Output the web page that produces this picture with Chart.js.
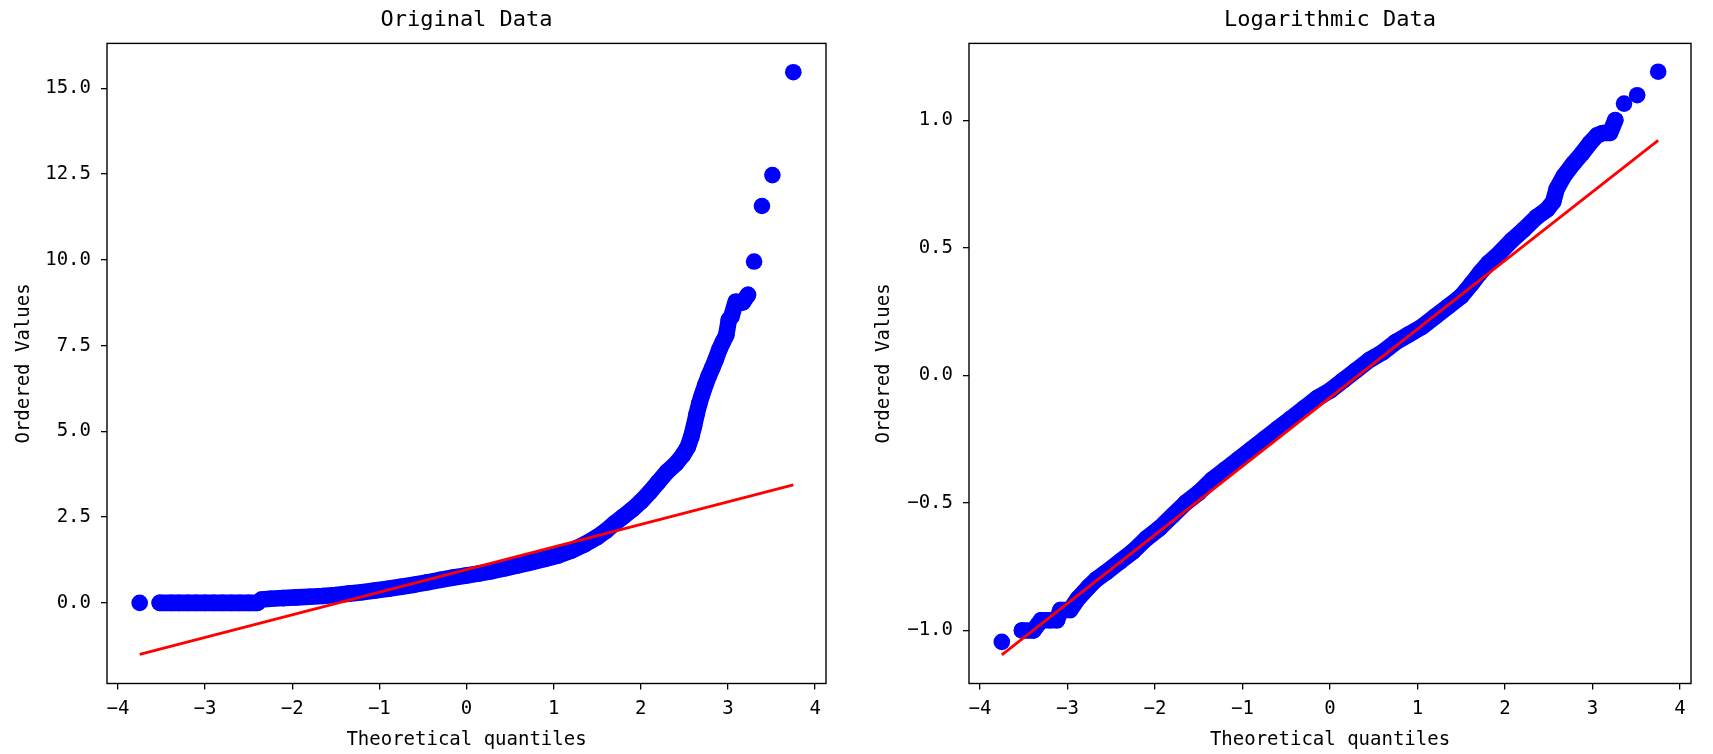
<!DOCTYPE html>
<html>
<head>
<meta charset="utf-8">
<title>Q-Q plots</title>
<script src="https://cdn.jsdelivr.net/npm/chart.js@4.4.1/dist/chart.umd.min.js"></script>
<style>
  html, body { margin: 0; padding: 0; background: #fff; }
  #wrap { position: relative; width: 1713px; height: 754px; }
  canvas { position: absolute; top: 0; }
</style>
</head>
<body>
<div id="wrap">
  <canvas id="chart-orig" width="860" height="754" style="left:0"></canvas>
  <canvas id="chart-log" width="853" height="754" style="left:860px"></canvas>
</div>
<script>
// ---- Original data (left panel) ----
const origBandX = [-3.52, -3.39, -3.30, -3.20, -3.10, -3.00, -2.90, -2.80, -2.70, -2.60, -2.50, -2.40,
  -2.35, -2.25, -2.10, -1.95, -1.80, -1.65, -1.50, -1.35, -1.20, -1.05, -0.90, -0.75, -0.60, -0.45,
  -0.30, -0.15, 0.00, 0.15, 0.30, 0.45, 0.60, 0.75, 0.90, 1.05, 1.20, 1.35, 1.50, 1.60, 1.70, 1.80,
  1.90, 2.00, 2.10, 2.20, 2.30, 2.40, 2.48, 2.54, 2.58, 2.61, 2.64, 2.67, 2.70, 2.74, 2.78, 2.82,
  2.86, 2.90, 2.94, 2.98, 3.01, 3.04, 3.09, 3.17, 3.23];
const origBandY = [0.0, 0.0, 0.0, 0.0, 0.0, 0.0, 0.0, 0.0, 0.0, 0.0, 0.0, 0.0,
  0.10, 0.12, 0.14, 0.16, 0.18, 0.20, 0.23, 0.27, 0.31, 0.36, 0.41, 0.47, 0.53, 0.60,
  0.67, 0.74, 0.80, 0.86, 0.93, 1.01, 1.10, 1.19, 1.28, 1.38, 1.52, 1.70, 1.92, 2.10, 2.32, 2.52,
  2.72, 2.95, 3.22, 3.52, 3.82, 4.05, 4.30, 4.55, 4.85, 5.15, 5.50, 5.80, 6.05, 6.35, 6.62, 6.85,
  7.10, 7.38, 7.60, 7.80, 8.25, 8.35, 8.78, 8.76, 8.98];
const origTailX = [-3.75, 3.30, 3.39, 3.51, 3.75];
const origTailY = [0.0, 9.95, 11.57, 12.47, 15.47];
const origFitX = [-3.75, 3.75];
const origFitY = [-1.50, 3.44];
const origXTicks = [-4, -3, -2, -1, 0, 1, 2, 3, 4];
const origYTicks = [0, 2.5, 5, 7.5, 10, 12.5, 15];

// ---- Logarithmic data (right panel) ----
const logBandX = [-3.52, -3.39, -3.30, -3.20, -3.12, -3.08, -2.97, -2.88, -2.76, -2.67, -2.55, -2.40,
  -2.25, -2.10, -1.95, -1.80, -1.65, -1.50, -1.35, -1.20, -1.05, -0.90, -0.75, -0.60, -0.45, -0.30,
  -0.15, 0.00, 0.15, 0.30, 0.45, 0.60, 0.75, 0.90, 1.05, 1.20, 1.35, 1.50, 1.62, 1.71, 1.81, 1.94,
  2.08, 2.21, 2.36, 2.48, 2.55, 2.59, 2.67, 2.78, 2.88, 2.97, 3.05, 3.12, 3.20, 3.26];
const logBandY = [-1.00, -1.00, -0.96, -0.96, -0.96, -0.92, -0.92, -0.875, -0.83, -0.80, -0.77, -0.73,
  -0.69, -0.64, -0.60, -0.55, -0.50, -0.46, -0.41, -0.37, -0.33, -0.29, -0.25, -0.21, -0.17, -0.13,
  -0.09, -0.06, -0.02, 0.02, 0.06, 0.09, 0.13, 0.16, 0.19, 0.23, 0.27, 0.31, 0.36, 0.40, 0.44, 0.48,
  0.53, 0.57, 0.62, 0.65, 0.68, 0.73, 0.78, 0.83, 0.87, 0.91, 0.94, 0.95, 0.95, 1.00];
const logTailX = [-3.75, 3.36, 3.51, 3.75];
const logTailY = [-1.045, 1.065, 1.098, 1.19];
const logFitX = [-3.75, 3.75];
const logFitY = [-1.096, 0.921];
const logXTicks = [-4, -3, -2, -1, 0, 1, 2, 3, 4];
const logYTicks = [-1.0, -0.5, 0.0, 0.5, 1.0];

const FONT = '"DejaVu Sans Mono", "Liberation Mono", monospace';
Chart.defaults.font.family = FONT;
Chart.defaults.color = '#000';

const minus = s => s.replace('-', '\u2212');
const pairs = (xs, ys) => xs.map((x, i) => ({ x, y: ys[i] }));

// matplotlib-like box around the axes
const framePlugin = {
  id: 'frame',
  afterDatasetsDraw(chart) {
    const { ctx, chartArea: a } = chart;
    ctx.save();
    ctx.strokeStyle = '#000';
    ctx.lineWidth = 1.4;
    ctx.strokeRect(a.left, a.top, a.right - a.left, a.bottom - a.top);
    ctx.restore();
  }
};

const DOT = 8.3;

function makeQQ(id, cfg) {
  const axisTicks = (list) => (scale) => { scale.ticks = list.map(v => ({ value: v })); };
  const grid = { drawOnChartArea: false, drawTicks: true, tickLength: 6, color: '#000', lineWidth: 1.3 };

  return new Chart(document.getElementById(id), {
    type: 'scatter',
    data: {
      datasets: [
        {
          label: 'fit',
          data: pairs(cfg.fitX, cfg.fitY),
          showLine: true,
          borderColor: '#ff0000',
          borderWidth: 2.8,
          pointRadius: 0,
          order: 0
        },
        {
          label: 'band',
          data: pairs(cfg.bandX, cfg.bandY),
          showLine: true,
          borderColor: '#0000ff',
          borderWidth: DOT * 2,
          borderCapStyle: 'round',
          borderJoinStyle: 'round',
          pointRadius: DOT,
          pointBackgroundColor: '#0000ff',
          pointBorderWidth: 0,
          order: 1
        },
        {
          label: 'tail',
          data: pairs(cfg.tailX, cfg.tailY),
          pointRadius: DOT,
          pointBackgroundColor: '#0000ff',
          pointBorderWidth: 0,
          order: 1
        }
      ]
    },
    options: {
      responsive: false,
      animation: false,
      devicePixelRatio: 1,
      layout: { padding: { left: 0, right: cfg.padRight, top: 0, bottom: 0 } },
      plugins: {
        legend: { display: false },
        tooltip: { enabled: false },
        title: {
          display: true,
          text: cfg.title,
          fullSize: false,
          color: '#000',
          font: { size: 22, weight: 'normal' },
          padding: { top: 7, bottom: 10 }
        }
      },
      scales: {
        x: {
          type: 'linear',
          position: 'bottom',
          min: cfg.xMin,
          max: cfg.xMax,
          afterBuildTicks: axisTicks(cfg.xTicks),
          afterFit: (s) => { s.height = 70.5; },
          ticks: { callback: v => minus(String(v)), font: { size: 19 }, padding: 8, maxRotation: 0, autoSkip: false, color: '#000' },
          grid,
          border: { display: false },
          title: { display: true, text: 'Theoretical quantiles', font: { size: 19 }, color: '#000', padding: { top: 0, bottom: 3 } }
        },
        y: {
          type: 'linear',
          min: cfg.yMin,
          max: cfg.yMax,
          afterBuildTicks: axisTicks(cfg.yTicks),
          afterFit: (s) => { s.width = cfg.yWidth; },
          ticks: { callback: v => minus(v.toFixed(1)), font: { size: 19 }, padding: 10, autoSkip: false, color: '#000' },
          grid,
          border: { display: false },
          title: { display: true, text: 'Ordered Values', font: { size: 19 }, color: '#000', padding: { top: 13, bottom: 0 } }
        }
      }
    },
    plugins: [framePlugin]
  });
}

makeQQ('chart-orig', {
  title: 'Original Data',
  bandX: origBandX, bandY: origBandY,
  tailX: origTailX, tailY: origTailY,
  fitX: origFitX, fitY: origFitY,
  xTicks: origXTicks, yTicks: origYTicks,
  xMin: -4.125, xMax: 4.125, yMin: -2.35, yMax: 16.31,
  yWidth: 107, padRight: 34
});

makeQQ('chart-log', {
  title: 'Logarithmic Data',
  bandX: logBandX, bandY: logBandY,
  tailX: logTailX, tailY: logTailY,
  fitX: logFitX, fitY: logFitY,
  xTicks: logXTicks, yTicks: logYTicks,
  xMin: -4.125, xMax: 4.125, yMin: -1.208, yMax: 1.301,
  yWidth: 109, padRight: 22
});
</script>
</body>
</html>
